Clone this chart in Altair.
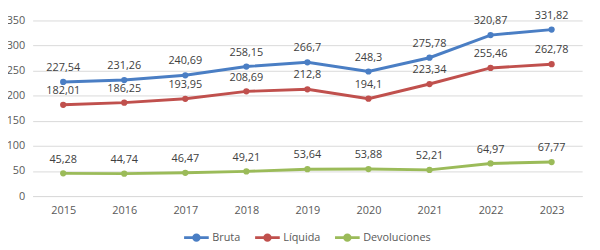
import altair as alt
import pandas as pd

years = ["2015", "2016", "2017", "2018", "2019", "2020", "2021", "2022", "2023"]
bruta = [227.54, 231.26, 240.69, 258.15, 266.7, 248.3, 275.78, 320.87, 331.82]
liquida = [182.01, 186.25, 193.95, 208.69, 212.8, 194.1, 223.34, 255.46, 262.78]
devoluciones = [45.28, 44.74, 46.47, 49.21, 53.64, 53.88, 52.21, 64.97, 67.77]

series = ["Bruta", "Líquida", "Devoluciones"]
colors = ["#4A7EC4", "#C0504D", "#9BBB59"]

rows = []
for name, vals in zip(series, [bruta, liquida, devoluciones]):
    for y, v in zip(years, vals):
        rows.append({"year": y, "serie": name, "value": v,
                     "label": f"{v:g}".replace(".", ",")})
df = pd.DataFrame(rows)

FONT = "Open Sans"
SYMBOL = "M-1,0L1,0M0.22,0A0.22,0.22,0,1,1,-0.22,0A0.22,0.22,0,1,1,0.22,0Z"

base = alt.Chart(df).encode(
    x=alt.X("year:N", title=None, scale=alt.Scale(type="point", padding=0.5),
            axis=alt.Axis(labelAngle=0, ticks=False, domain=True, domainColor="#D9D9D9",
                          labelColor="#595959", labelFont=FONT, labelFontSize=11,
                          labelPadding=9, grid=False)),
    y=alt.Y("value:Q", title=None, scale=alt.Scale(domain=[0, 350], nice=False),
            axis=alt.Axis(values=[0, 50, 100, 150, 200, 250, 300, 350], ticks=False,
                          domain=False, gridColor="#D9D9D9", labelColor="#595959",
                          labelFont=FONT, labelFontSize=11, labelPadding=8)),
    color=alt.Color("serie:N", scale=alt.Scale(domain=series, range=colors),
                    sort=series,
                    legend=alt.Legend(orient="none", legendX=152, legendY=206,
                                      direction="horizontal", title=None,
                                      symbolType=SYMBOL, symbolStrokeWidth=3,
                                      symbolSize=625, labelFont=FONT, labelFontSize=11,
                                      labelColor="#595959", columnPadding=8,
                                      labelOffset=2, padding=0)),
)

lines = base.mark_line(strokeWidth=3)
points = base.mark_circle(size=40, opacity=1)
texts = base.mark_text(dy=-14, font=FONT, fontSize=11, color="#404040").encode(
    text="label:N", color=alt.value("#404040"))

chart = (lines + points + texts).properties(
    width=557, height=178,
    autosize=alt.AutoSizeParams(type="none"),
    padding={"left": 25, "top": 11, "right": 10, "bottom": 52},
).configure_view(stroke=None)

chart.save("out.html", embed_options={"renderer": "svg", "actions": False})
